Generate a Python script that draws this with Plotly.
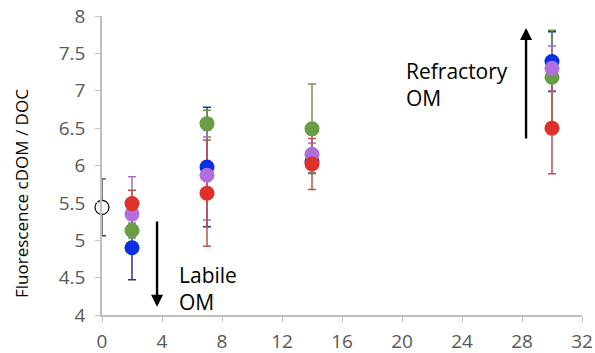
import plotly.graph_objects as go

# Data
days = [2, 7, 14, 30]
blue = [4.90, 5.98, 6.05, 7.39]
blue_err = [0.43, 0.80, 0.15, 0.40]
green = [5.13, 6.56, 6.49, 7.18]
green_err = [0.10, 0.18, 0.60, 0.63]
purple = [5.35, 5.87, 6.15, 7.30]
purple_err = [0.50, 0.60, 0.15, 0.30]
red = [5.49, 5.63, 6.02, 6.50]
red_err = [0.18, 0.71, 0.34, 0.61]
init_day = [0]
init_val = [5.44]
init_err = [0.38]
y_title = "Fluorescence cDOM / DOC"

series = [
    (blue, blue_err, "#0a2fe0", "#23349a"),
    (green, green_err, "#6a9d46", "#6f9450"),
    (purple, purple_err, "#b06fdc", "#a46cc8"),
    (red, red_err, "#e0302a", "#c0504d"),
]

fig = go.Figure()

# error bars first (behind all markers)
fig.add_trace(go.Scatter(x=init_day, y=init_val, mode="markers", cliponaxis=False,
                         marker=dict(size=1, color="rgba(0,0,0,0)"),
                         error_y=dict(type="data", array=init_err, color="#404040", thickness=1.3, width=4),
                         showlegend=False, hoverinfo="skip"))
for vals, errs, col, ecol in series:
    fig.add_trace(go.Scatter(x=days, y=vals, mode="markers", cliponaxis=False,
                             marker=dict(size=1, color="rgba(0,0,0,0)"),
                             error_y=dict(type="data", array=errs, color=ecol, thickness=1.5, width=4),
                             showlegend=False, hoverinfo="skip"))

fig.add_trace(go.Scatter(x=init_day, y=init_val, mode="markers", cliponaxis=False,
                         marker=dict(size=14, color="white", line=dict(color="black", width=1.2)),
                         showlegend=False))
for vals, errs, col, ecol in series:
    fig.add_trace(go.Scatter(x=days, y=vals, mode="markers", cliponaxis=False,
                             marker=dict(size=15, color=col, line=dict(width=0)),
                             showlegend=False))

# arrows
fig.add_annotation(x=3.67, y=4.11, ax=3.67, ay=5.27, xref="x", yref="y", axref="x", ayref="y",
                   showarrow=True, arrowhead=2, arrowsize=1, arrowwidth=2.4, arrowcolor="black", text="")
fig.add_annotation(x=28.27, y=7.84, ax=28.27, ay=6.34, xref="x", yref="y", axref="x", ayref="y",
                   showarrow=True, arrowhead=2, arrowsize=1, arrowwidth=2.4, arrowcolor="black", text="")

fig.add_annotation(x=5.0, y=4.35, xref="x", yref="y", text="Labile<br>OM", showarrow=False,
                   xanchor="left", yanchor="middle", align="left",
                   font=dict(family="Open Sans", size=21, color="black"))
fig.add_annotation(x=20.1, y=7.08, xref="x", yref="y", text="Refractory<br>OM", showarrow=False,
                   xanchor="left", yanchor="middle", align="left",
                   font=dict(family="Open Sans", size=21, color="black"))

# y-axis title (placed as in the reference, slightly below plot centre)
fig.add_annotation(x=(21 - 102) / 480, y=(315 - 194) / 299, xref="paper", yref="paper", text=y_title,
                   textangle=-90, showarrow=False, xanchor="center", yanchor="middle",
                   font=dict(family="Open Sans", size=17, color="black"))

fig.update_layout(
    width=595, height=353,
    margin=dict(l=102, r=13, t=16, b=38, autoexpand=False),
    plot_bgcolor="white", paper_bgcolor="white",
    font=dict(family="Open Sans", size=19, color="#595959"),
    showlegend=False,
)
fig.update_xaxes(range=[0, 32], tickvals=[0, 4, 8, 12, 16, 20, 24, 28, 32],
                 showline=True, linecolor="#bfbfbf", linewidth=1.5, automargin=False,
                 ticks="outside", ticklen=5, tickcolor="#bfbfbf", showgrid=False, zeroline=False,
                 ticklabelstandoff=3,
                 tickfont=dict(size=19, color="#595959"))
fig.update_yaxes(range=[4, 8], tickvals=[4, 4.5, 5, 5.5, 6, 6.5, 7, 7.5, 8],
                 ticktext=["4", "4.5", "5", "5.5", "6", "6.5", "7", "7.5", "8"],
                 showline=True, linecolor="#bfbfbf", linewidth=1.5, automargin=False,
                 ticks="outside", ticklen=5, tickcolor="#bfbfbf", showgrid=False, zeroline=False,
                 ticklabelstandoff=6,
                 tickfont=dict(size=19, color="#595959"))

fig.write_html("out.html")
